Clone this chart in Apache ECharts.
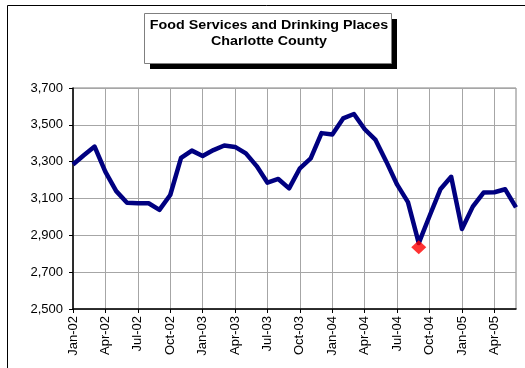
<!DOCTYPE html>
<html>
<head>
<meta charset="utf-8">
<script src="https://cdn.jsdelivr.net/npm/echarts@6/dist/echarts.min.js"></script>
<style>
  html, body { margin: 0; padding: 0; background: #fff; }
  #chart { width: 525px; height: 368px; }
</style>
</head>
<body>
<div id="chart"></div>
<script>
// Monthly employment, Jan 2002 – Jun 2005
const months = [
  'Jan-02','Feb-02','Mar-02','Apr-02','May-02','Jun-02','Jul-02','Aug-02','Sep-02','Oct-02','Nov-02','Dec-02',
  'Jan-03','Feb-03','Mar-03','Apr-03','May-03','Jun-03','Jul-03','Aug-03','Sep-03','Oct-03','Nov-03','Dec-03',
  'Jan-04','Feb-04','Mar-04','Apr-04','May-04','Jun-04','Jul-04','Aug-04','Sep-04','Oct-04','Nov-04','Dec-04',
  'Jan-05','Feb-05','Mar-05','Apr-05','May-05','Jun-05'
];
const employment = [
  3285, 3335, 3382, 3245, 3140, 3077, 3074, 3074, 3038, 3119, 3320, 3360,
  3331, 3363, 3388, 3380, 3345, 3276, 3186, 3206, 3155, 3264, 3318, 3455,
  3448, 3535, 3559, 3476, 3418, 3300, 3175, 3080, 2858, 3005, 3150, 3218,
  2934, 3056, 3132, 3134, 3150, 3052
];
// Highlighted month (Sep-04)
const highlightMonth = 'Sep-04';
const highlightValue = 2835;
const titleLines = ['Food Services and Drinking Places', 'Charlotte County'];

const font = '"Liberation Sans", Arial, sans-serif';

const chart = echarts.init(document.getElementById('chart'));
chart.setOption({
  animation: false,
  backgroundColor: '#fff',
  grid: { left: 73, right: 9, top: 88, bottom: 59, show: true, borderColor: '#808080', borderWidth: 1 },
  xAxis: {
    type: 'category',
    data: months,
    boundaryGap: false,
    axisLine: { lineStyle: { color: '#000', width: 1.5 } },
    axisTick: { interval: 2, length: 4, lineStyle: { color: '#000' } },
    axisLabel: { interval: 2, rotate: 90, color: '#000', fontFamily: font, fontSize: 13, margin: 7 },
    splitLine: { show: true, interval: 2, lineStyle: { color: '#a6a6a6', width: 1 } }
  },
  yAxis: {
    type: 'value',
    min: 2500, max: 3700, interval: 200,
    axisLine: { show: true, lineStyle: { color: '#000', width: 1.5 } },
    axisTick: { show: true, length: 4, lineStyle: { color: '#000' } },
    axisLabel: {
      color: '#000', fontFamily: font, fontSize: 13, margin: 10,
      formatter: v => v.toLocaleString('en-US')
    },
    splitLine: { lineStyle: { color: '#a6a6a6', width: 1 } }
  },
  series: [
    {
      type: 'line',
      data: employment,
      symbol: 'none',
      lineStyle: { color: '#000080', width: 4.5, join: 'round' },
      z: 3
    },
    {
      type: 'scatter',
      data: [[highlightMonth, highlightValue]],
      symbol: 'diamond',
      symbolSize: [15, 14],
      itemStyle: { color: '#ff0000' },
      z: 4
    }
  ],
  graphic: [
    { type: 'rect', shape: { x: 7.5, y: 5.5, width: 530, height: 380 }, style: { fill: 'none', stroke: '#000', lineWidth: 1 }, silent: true },
    { type: 'rect', shape: { x: 150, y: 19, width: 247, height: 50 }, style: { fill: '#000' }, silent: true, z: 10 },
    { type: 'rect', shape: { x: 144.5, y: 13.5, width: 247, height: 50 }, style: { fill: '#fff', stroke: '#7f7f7f', lineWidth: 1 }, silent: true, z: 11 },
    {
      type: 'text', silent: true, z: 12,
      x: 269, y: 33, scaleX: 1.1,
      style: {
        text: titleLines.join('\n'),
        textAlign: 'center', textVerticalAlign: 'middle',
        font: 'bold 13px ' + font, fill: '#000', lineHeight: 16
      }
    }
  ]
});
</script>
</body>
</html>
